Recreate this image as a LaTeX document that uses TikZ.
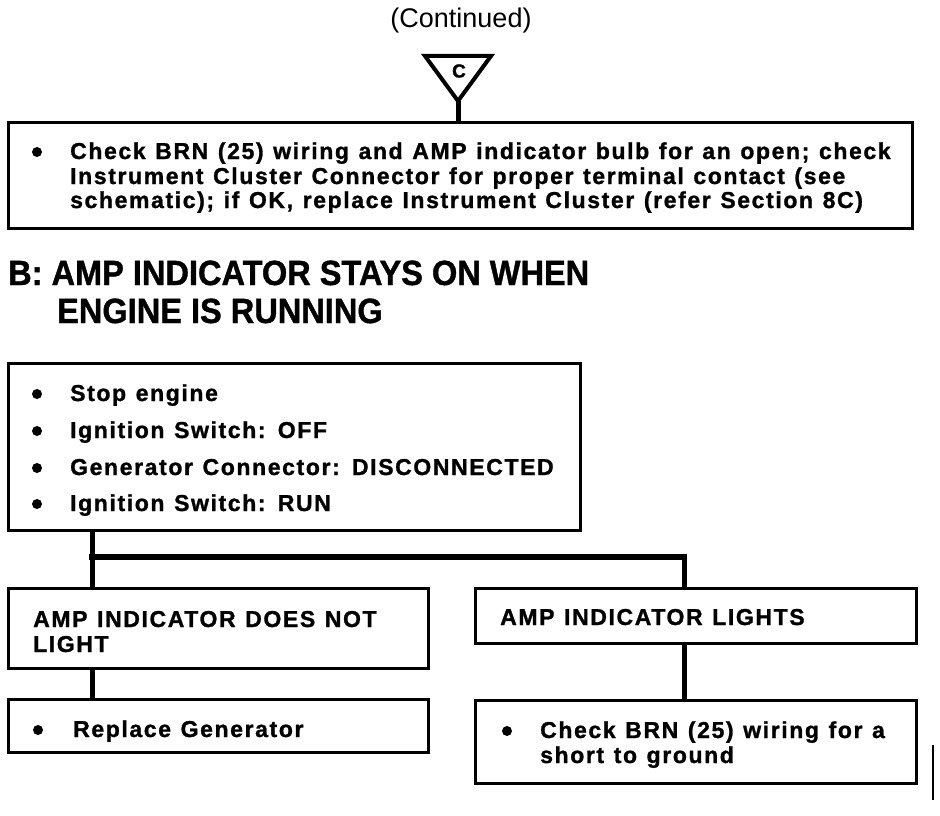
\documentclass[tikz,border=0pt]{standalone}
\usepackage{fontspec}
\setmainfont{Liberation Sans}
\newfontfamily\boxfont[LetterSpace=7,FakeBold=1.2,WordSpace=1.2]{Liberation Sans}
\newfontfamily\headfont[FakeStretch=0.93,FakeBold=1]{Liberation Sans}
\begin{document}
\begin{tikzpicture}[x=1pt,y=-1pt,
  box/.style={draw, line width=3pt, inner sep=0pt, outer sep=0pt, anchor=north west},
  txt/.style={anchor=base west, inner sep=0pt, font=\boxfont\bfseries\fontsize{23}{25}\selectfont},
  dot/.style={circle, fill, draw=none, inner sep=0pt, minimum size=10pt},
  headtxt/.style={anchor=base west, inner sep=0pt, font=\headfont\bfseries\fontsize{35}{38}\selectfont},
  conn/.style={line width=5pt},
  hconn/.style={line width=6.5pt, line cap=rect}]
\useasboundingbox (0,0) rectangle (940,816);
\fill[white] (0,0) rectangle (940,816);

% title
\node[inner sep=0pt, font=\fontsize{27}{29}\selectfont] (cont) at (461,21) {(Continued)};

% off-page connector triangle
\coordinate (tA) at (425,56);
\coordinate (tB) at (491,56);
\coordinate (tC) at (458,101);
\draw[line width=4pt, line join=miter] (tA) -- (tB) -- (tC) -- cycle;
\node[inner sep=0pt, font=\boxfont\bfseries\fontsize{19}{20}\selectfont] (clab) at (459,71) {C};

% box 1
\node[box, minimum width=904pt, minimum height=106pt] (b1) at (8,122) {};
\draw[conn] (tC) -- (b1.north -| tC);
\node[dot] (b1d) at (37,152) {};
\node[txt] (b1l1) at (70,159) {Check BRN (25) wiring and AMP indicator bulb for an open; check};
\node[txt] (b1l2) at (70,184) {Instrument Cluster Connector for proper terminal contact (see};
\node[txt] (b1l3) at (70,208) {schematic); if OK, replace Instrument Cluster (refer Section 8C)};

% heading
\node[headtxt] (h1) at (8,285) {B: AMP INDICATOR STAYS ON WHEN};
\node[headtxt] (h2) at (57,323) {ENGINE IS RUNNING};

% box 2
\node[box, minimum width=572pt, minimum height=167pt] (b2) at (8,363) {};
\node[dot] (b2d1) at (37,394) {};
\node[txt] (b2l1) at (70,401) {Stop engine};
\node[dot] (b2d2) at (37,431) {};
\node[txt] (b2l2) at (70,438) {Ignition Switch: OFF};
\node[dot] (b2d3) at (37,468) {};
\node[txt] (b2l3) at (70,475) {Generator Connector: DISCONNECTED};
\node[dot] (b2d4) at (37,504) {};
\node[txt] (b2l4) at (70,511) {Ignition Switch: RUN};

% box 3 left / right
\node[box, minimum width=420pt, minimum height=80pt] (b3l) at (8,588) {};
\node[txt] (b3la) at (33,627) {AMP INDICATOR DOES NOT};
\node[txt] (b3lb) at (33,652) {LIGHT};
\node[box, minimum width=441pt, minimum height=55pt] (b3r) at (475,588) {};
\node[txt] (b3ra) at (500,625) {AMP INDICATOR LIGHTS};

% box 4 left / right
\node[box, minimum width=420pt, minimum height=53pt] (b4l) at (8,699) {};
\node[dot] (b4ld) at (38,730) {};
\node[txt] (b4la) at (73,737) {Replace Generator};
\node[box, minimum width=441pt, minimum height=83pt] (b4r) at (475,700) {};
\node[dot] (b4rd) at (507,731) {};
\node[txt] (b4ra) at (540,738) {Check BRN (25) wiring for a};
\node[txt] (b4rb) at (540,763) {short to ground};

% connectors
\coordinate (j1) at (92,557);
\coordinate (j2) at (684,557);
\draw[conn] (b2.south -| j1) -- (b3l.north -| j1);
\draw[hconn] (j1) -- (j2);
\draw[conn] (j2) -- (b3r.north -| j2);
\draw[conn] (b3l.south -| j1) -- (b4l.north -| j1);
\draw[conn] (b3r.south -| j2) -- (b4r.north -| j2);

% scan mark at right edge
\draw[line width=1.5pt] (933,745) -- (933,800);
\end{tikzpicture}
\end{document}
